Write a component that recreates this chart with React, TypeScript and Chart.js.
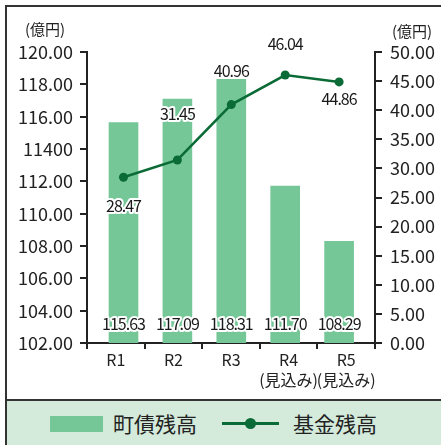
import React, { useEffect, useRef } from "react";
import { Chart, registerables } from "chart.js";

Chart.register(...registerables);

const categories: (string | string[])[] = ["R1", "R2", "R3", ["R4", "(見込み)"], ["R5", "(見込み)"]];
const debtValues = [115.63, 117.09, 118.31, 111.7, 108.29];
const fundValues = [28.47, 31.45, 40.96, 46.04, 44.86];
const leftTickLabels = ["102.00", "104.00", "106.00", "108.00", "110.00", "112.00", "11400", "116.00", "118.00", "120.00"];
const rightTickLabels = ["0.00", "5.00", "10.00", "15.00", "20.00", "25.00", "30.00", "35.00", "40.00", "45.00", "50.00"];
const debtName = "町債残高";
const fundName = "基金残高";
const unitLabel = "(億円)";

const FONT = '"Noto Sans CJK JP", "Noto Sans", sans-serif';
const BAR_COLOR = "#75c797";
const LINE_COLOR = "#0a6b36";
const AXIS_COLOR = "#222222";
// vertical offsets (px) of the line value labels relative to their points
const lineLabelShift = [29, -46, -34, -31, 17];

const labelPlugin = {
  id: "valueLabels",
  afterDatasetsDraw(chart: any) {
    const ctx = chart.ctx;
    const area = chart.chartArea;
    ctx.save();
    ctx.font = `16px ${FONT}`;
    (ctx as any).letterSpacing = "-1px";
    ctx.textAlign = "center";
    ctx.textBaseline = "middle";
    ctx.lineJoin = "round";
    const drawText = (t: string, x: number, y: number) => {
      ctx.strokeStyle = "#ffffff";
      ctx.lineWidth = 4;
      ctx.strokeText(t, x, y);
      ctx.fillStyle = "#1a1a1a";
      ctx.fillText(t, x, y);
    };
    const barMeta = chart.getDatasetMeta(0);
    barMeta.data.forEach((el: any, i: number) => {
      drawText(debtValues[i].toFixed(2), el.x, area.bottom - 19);
    });
    const lineMeta = chart.getDatasetMeta(1);
    lineMeta.data.forEach((el: any, i: number) => {
      drawText(fundValues[i].toFixed(2), el.x, el.y + lineLabelShift[i]);
    });
    // unit labels
    (ctx as any).letterSpacing = "0px";
    ctx.font = `15px ${FONT}`;
    ctx.fillStyle = "#222";
    ctx.fillText(unitLabel, 45, 29);
    ctx.fillText(unitLabel, 412, 31);
    ctx.restore();
  },
};

export default function App() {
  const ref = useRef<HTMLCanvasElement | null>(null);
  useEffect(() => {
    if (!ref.current) return;
    const chart = new Chart(ref.current, {
      type: "bar",
      data: {
        labels: categories as any,
        datasets: [
          {
            type: "bar",
            label: debtName,
            data: debtValues.map((v, i) => ({ x: i, y: v })) as any,
            backgroundColor: BAR_COLOR,
            borderWidth: 0,
            barThickness: 29,
            xAxisID: "xData",
            yAxisID: "y",
            order: 2,
          },
          {
            type: "line",
            label: fundName,
            data: fundValues.map((v, i) => ({ x: i, y: v })) as any,
            borderColor: LINE_COLOR,
            backgroundColor: LINE_COLOR,
            borderWidth: 2.5,
            pointRadius: 4.5,
            pointBackgroundColor: LINE_COLOR,
            pointBorderWidth: 0,
            tension: 0,
            xAxisID: "xData",
            yAxisID: "y1",
            order: 1,
          },
        ],
      },
      options: {
        animation: false,
        responsive: false,
        maintainAspectRatio: false,
        layout: { padding: { top: 52, left: 0, right: 0, bottom: 0 } },
        plugins: { legend: { display: false }, tooltip: { enabled: false } },
        scales: {
          x: {
            type: "category",
            offset: true,
            position: "bottom",
            border: { display: true, color: AXIS_COLOR, width: 2 },
            grid: {
              offset: true,
              drawOnChartArea: false,
              drawTicks: true,
              tickLength: 6,
              color: AXIS_COLOR,
              lineWidth: 2,
            },
            ticks: {
              color: "#222",
              padding: 1,
              font: { family: FONT, size: 16, lineHeight: 1.25 },
              maxRotation: 0,
              autoSkip: false,
            },
            afterFit: (s: any) => {
              s.height = 57;
            },
          },
          xData: {
            type: "linear",
            display: false,
            offset: false,
            grid: { offset: false },
            min: -0.677,
            max: 4.666,
          },
          y: {
            type: "linear",
            position: "left",
            min: 102,
            max: 120,
            border: { display: true, color: AXIS_COLOR, width: 2 },
            grid: { drawOnChartArea: false, tickLength: 7, color: AXIS_COLOR, lineWidth: 2 },
            ticks: {
              stepSize: 2,
              color: "#222",
              padding: 7,
              font: { family: FONT, size: 18 },
              callback: (_v: any, i: number) => leftTickLabels[i],
            },
            afterFit: (s: any) => {
              s.width = 87;
            },
          },
          y1: {
            type: "linear",
            position: "right",
            min: 0,
            max: 50,
            border: { display: true, color: AXIS_COLOR, width: 2 },
            grid: { drawOnChartArea: false, tickLength: 7, color: AXIS_COLOR, lineWidth: 2 },
            ticks: {
              stepSize: 5,
              color: "#222",
              padding: 8,
              font: { family: FONT, size: 18 },
              callback: (_v: any, i: number) => rightTickLabels[i],
            },
            afterFit: (s: any) => {
              s.width = 66;
            },
          },
        },
      } as any,
      plugins: [labelPlugin],
    });
    return () => chart.destroy();
  }, []);

  return (
    <div style={{ position: "fixed", left: 0, top: 0, width: 441, height: 445, overflow: "hidden", background: "#fff" }}>
      <canvas ref={ref} width={441} height={400} style={{ position: "absolute", left: 0, top: 0, width: 441, height: 400 }} />
      <div
        style={{
          position: "absolute",
          left: 5,
          top: 5,
          width: 460,
          height: 460,
          border: "2px solid #333",
          boxSizing: "border-box",
          pointerEvents: "none",
        }}
      />
      <div
        style={{
          position: "absolute",
          left: 5,
          top: 399,
          width: 460,
          height: 60,
          background: "#d4eadb",
          borderTop: "2px solid #333",
          borderLeft: "2px solid #333",
          boxSizing: "border-box",
          fontFamily: FONT,
          color: "#222",
        }}
      >
        <div style={{ position: "absolute", left: 43, top: 15, width: 53, height: 16, background: BAR_COLOR }} />
        <div style={{ position: "absolute", left: 106, top: 8, fontSize: 21, lineHeight: "28px", whiteSpace: "nowrap" }}>{debtName}</div>
        <div style={{ position: "absolute", left: 215, top: 21, width: 57, height: 3, background: LINE_COLOR }} />
        <div style={{ position: "absolute", left: 238, top: 17, width: 11, height: 11, borderRadius: "50%", background: LINE_COLOR }} />
        <div style={{ position: "absolute", left: 286, top: 8, fontSize: 21, lineHeight: "28px", whiteSpace: "nowrap" }}>{fundName}</div>
      </div>
    </div>
  );
}
